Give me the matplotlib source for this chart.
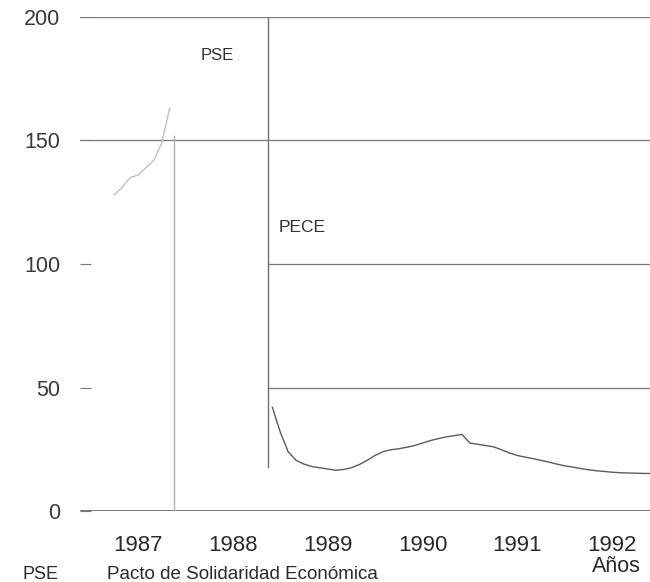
import matplotlib
matplotlib.use("Agg")
import matplotlib.pyplot as plt
import numpy as np

plt.rcParams['font.family'] = ['Liberation Sans', 'DejaVu Sans']

# ---- data (annual inflation, %) ----
years = [1987, 1988, 1989, 1990, 1991, 1992]
y_ticks = [0, 50, 100, 150, 200]

# 1987 segment (Apr - Nov 1987), faint in the scan
t_1987 = [1987 + m / 12 for m in range(3, 11)]
v_1987 = [128, 131, 135, 136, 139, 142, 149, 163]

# post-PECE segment (Dec 1988 - Dec 1992)
t_pece = [1988 + 11 / 12 + m / 12 for m in range(49)]
v_pece = [42, 32, 24, 20.5, 19, 18, 17.5, 17, 16.5, 16.8, 17.5, 18.8,
          20.5, 22.5, 24, 24.8, 25.2, 25.8, 26.5, 27.5, 28.5, 29.3, 30, 30.5,
          31, 27.5, 27, 26.5, 26, 24.8, 23.5, 22.5, 21.8, 21.2, 20.5, 19.8,
          19, 18.3, 17.8, 17.2, 16.7, 16.3, 16, 15.7, 15.5, 15.4, 15.3, 15.2, 15.2]

pse_date = 1987.88
pece_date = 1988.87
pse_top = 152
pece_bottom = 18

fig = plt.figure(figsize=(6.5, 5.82), dpi=100)
ax = fig.add_axes([80 / 650, 71 / 582, 570 / 650, 494 / 582])
ax.set_xlim(1986.888, 1992.90)
ax.set_ylim(0, 200)

grid_c = '#7a7a7a'
# gridlines
ax.axhline(0, color='#555555', lw=1.1)
for v in [150, 200]:
    ax.axhline(v, color=grid_c, lw=0.9)
for v in [50, 100]:
    ax.plot([pece_date, 1992.90], [v, v], color=grid_c, lw=0.9)

# agreement markers
ax.plot([pse_date, pse_date], [0, pse_top], color='#b0b0b0', lw=1.0)
ax.plot([pece_date, pece_date], [pece_bottom, 200], color='#707070', lw=1.0)

# data
ax.plot(t_1987, v_1987, color='#c0c0c0', lw=1.0)
ax.plot(t_pece, v_pece, color='#5c5c5c', lw=1.0)

ax.text(1988.34, 184.6, 'PSE', fontsize=12, color='#333333', ha='center', va='center')
ax.text(1989.23, 114.6, 'PECE', fontsize=12.5, color='#333333', ha='center', va='center')

for s in ax.spines.values():
    s.set_visible(False)
ax.set_yticks(y_ticks)
ax.set_yticklabels([str(v) for v in y_ticks], fontsize=15.5, color='#3a3a3a')
ax.tick_params(axis='y', length=8, direction='in', color=grid_c, pad=14)
ax.set_xticks([y + 0.5 for y in years])
ax.set_xticklabels([str(y) for y in years], fontsize=16, color='#2a2a2a')
ax.tick_params(axis='x', length=0, pad=17)

fig.text(616 / 650, 0.026, 'Años', fontsize=15.5, color='#2a2a2a', ha='center', va='center')
fig.text(22 / 650, 3 / 582, 'PSE', fontsize=13, color='#2a2a2a', ha='left', va='baseline')
fig.text(107 / 650, 3 / 582, 'Pacto de Solidaridad Económica', fontsize=13.5,
         color='#2a2a2a', ha='left', va='baseline')

fig.savefig('out.png', dpi=100)
